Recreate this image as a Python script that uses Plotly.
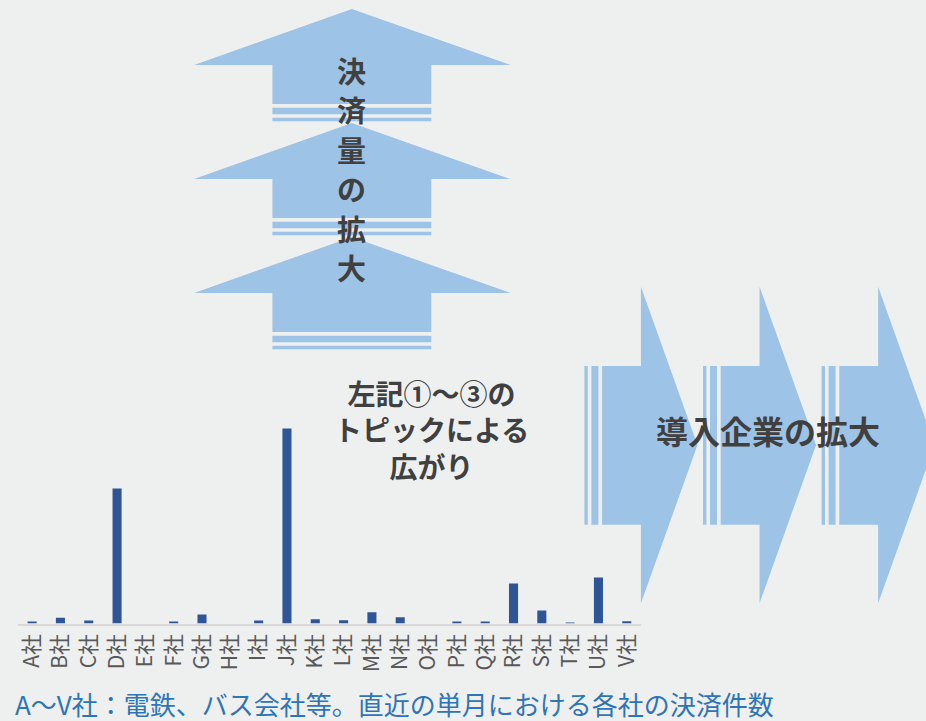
import plotly.graph_objects as go

# ---- data ----
companies = ["A社", "B社", "C社", "D社", "E社", "F社", "G社", "H社", "I社", "J社", "K社",
             "L社", "M社", "N社", "O社", "P社", "Q社", "R社", "S社", "T社", "U社", "V社"]
payments = [2.0, 5.7, 3.0, 135.0, 0.0, 2.0, 9.0, 0.0, 3.0, 195.0, 4.3,
            3.3, 11.3, 6.3, 0.0, 1.7, 2.0, 40.0, 13.0, 1.0, 46.0, 2.3]
vertical_title = "決済量の拡大"

W, H = 926, 721
BG = "#eef0f0"
BAR = "#2f5597"
ARROW = "#9dc3e6"
TXT = "#404040"
FONT = "Noto Sans CJK JP"


def px(x):
    return x / W


def py(y):
    return 1 - y / H


fig = go.Figure()
fig.add_trace(go.Bar(
    x=companies, y=payments,
    marker=dict(color=BAR, line=dict(width=0)),
    hoverinfo="x+y",
))

shapes = []


def poly(points):
    d = "M " + " L ".join(f"{px(x):.5f},{py(y):.5f}" for x, y in points) + " Z"
    return dict(type="path", path=d, xref="paper", yref="paper",
                fillcolor=ARROW, line=dict(width=0), layer="below")


def rect(x0, y0, x1, y1):
    return dict(type="rect", xref="paper", yref="paper",
                x0=px(x0), x1=px(x1), y0=py(y0), y1=py(y1),
                fillcolor=ARROW, line=dict(width=0), layer="below")


# up arrows (decorative)
for k in range(3):
    d = 114 * k
    shapes.append(poly([(350, 9 + d), (509, 65 + d), (429.7, 65 + d), (429.7, 104 + d),
                        (270.3, 104 + d), (270.3, 65 + d), (191.7, 65 + d)]))
    shapes.append(rect(270.3, 107.7 + d, 429.7, 114.3 + d))
    shapes.append(rect(270.3, 117.7 + d, 429.7, 121.3 + d))

# right arrows (decorative)
for k in range(3):
    e = 119 * k
    shapes.append(poly([(601 + e, 366), (640 + e, 366), (640 + e, 286.7), (696.7 + e, 445),
                        (640 + e, 603.3), (640 + e, 524.7), (601 + e, 524.7)]))
    shapes.append(rect(583.3 + e, 366, 586.7 + e, 524.7))
    shapes.append(rect(590.3 + e, 366, 597.3 + e, 524.7))

annotations = []
for i, ch in enumerate(vertical_title):
    annotations.append(dict(text=f"<b>{ch}</b>", x=px(350), y=py(70 + 39.4 * i),
                            xref="paper", yref="paper", showarrow=False,
                            xanchor="center", yanchor="middle",
                            font=dict(family=FONT, size=29, color=TXT)))

annotations += [
    dict(text="<b>左記①～③の<br>トピックによる<br>広がり</b>", x=px(430), y=py(430),
         xref="paper", yref="paper", showarrow=False, xanchor="center", yanchor="middle",
         font=dict(family=FONT, size=28, color=TXT)),
    dict(text="<b>導入企業の拡大</b>", x=px(767), y=py(430),
         xref="paper", yref="paper", showarrow=False, xanchor="center", yanchor="middle",
         font=dict(family=FONT, size=32, color=TXT)),
    dict(text="A～V社：電鉄、バス会社等。直近の単月における各社の決済件数", x=px(10), y=py(703),
         xref="paper", yref="paper", showarrow=False, xanchor="left", yanchor="middle",
         font=dict(family=FONT, size=26, color="#2e75b6")),
]

fig.update_layout(
    width=W, height=H,
    margin=dict(l=0, r=0, t=0, b=0),
    paper_bgcolor=BG, plot_bgcolor=BG,
    showlegend=False,
    bargap=0.68,
    shapes=shapes,
    annotations=annotations,
    xaxis=dict(domain=[px(15), px(640)], tickangle=-90, showgrid=False, zeroline=False,
               showline=True, linecolor="#d9d9d9", linewidth=2, ticks="",
               tickfont=dict(family=FONT, size=21, color="#595959"), fixedrange=True),
    yaxis=dict(domain=[py(623.5), py(423.5)], range=[0, 200], visible=False,
               showgrid=False, zeroline=False, fixedrange=True),
)

fig.write_html("out.html")
